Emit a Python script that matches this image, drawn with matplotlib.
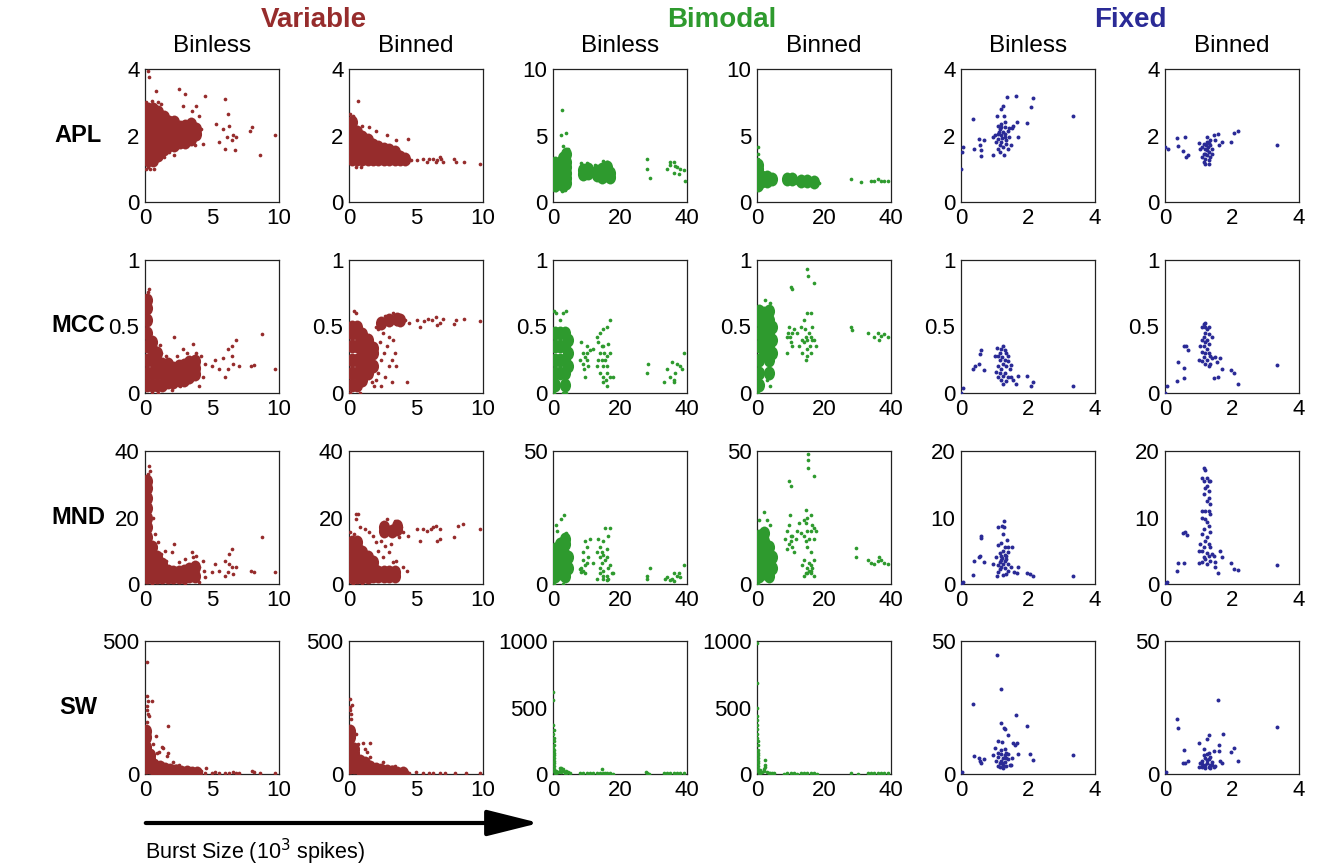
import matplotlib
matplotlib.use("Agg")
import matplotlib.pyplot as plt
from matplotlib.path import Path
import matplotlib.transforms as mtrans
from matplotlib.patches import FancyArrowPatch

plt.rcParams['font.family'] = ['Liberation Sans', 'DejaVu Sans']

# ---------------- labels ----------------
groups = ["Variable", "Bimodal", "Fixed"]
subtitles = ["Binless", "Binned"]
rows = ["APL", "MCC", "MND", "SW"]
xlabel_text = "Burst Size (10$^3$ spikes)"

# axis limits / ticks per row (variable, bimodal, fixed)
x_max = [10, 40, 4]
x_ticks = [[0, 5, 10], [0, 20, 40], [0, 2, 4]]
y_max = [[4, 10, 4], [1, 1, 1], [40, 50, 20], [500, 1000, 50]]
y_ticks = [
    [["0", "2", "4"], ["0", "5", "10"], ["0", "2", "4"]],
    [["0", "0.5", "1"], ["0", "0.5", "1"], ["0", "0.5", "1"]],
    [["0", "20", "40"], ["0", "", "50"], ["0", "10", "20"]],
    [["0", "", "500"], ["0", "500", "1000"], ["0", "", "50"]],
]

# ---------------- data: APL ----------------
apl_var_binless_core = [
    (0.2,1.25),(0.2,1.5),(0.2,1.8),(0.2,2.1),(0.2,2.4),(0.2,2.65),(0.2,2.8),
    (0.6,1.25),(0.6,1.5),(0.6,1.8),(0.6,2.1),(0.6,2.4),(0.6,2.65),(0.6,2.8),
    (1.0,1.4),(1.0,1.7),(1.0,2.0),(1.0,2.3),(1.0,2.6),(1.0,2.7),
    (1.4,1.6),(1.4,1.9),(1.4,2.2),(1.4,2.5),(1.4,2.55),
    (1.8,1.7),(1.8,2.0),(1.8,2.3),(1.8,2.4),
    (2.2,1.7),(2.2,2.0),(2.2,2.3),(2.2,2.4),
    (2.6,1.8),(2.6,2.1),(2.6,2.25),
    (3.0,1.8),(3.0,2.1),(3.0,2.3),
    (3.4,1.9),(3.4,2.2),(3.4,2.35),(3.8,2.05),(3.8,2.2)]
apl_var_binless = [
    (0.2,3.95),(0.3,3.75),(0.8,3.35),(1.0,3.0),(2.5,3.4),(3.0,3.25),(4.5,3.2),(6.0,3.1),
    (6.2,2.65),(2.8,2.9),(3.8,2.9),(4.2,2.2),(5.3,2.35),(5.5,1.8),(5.8,2.2),(6.0,1.6),
    (6.3,2.3),(6.5,1.85),(6.6,2.0),(6.8,1.95),(6.7,1.55),(6.1,1.95),(7.8,2.15),(8.0,2.25),
    (8.6,1.4),(9.7,2.0),(4.3,1.75),(3.7,1.7),(1.8,1.5),(2.2,1.4),(1.4,1.35),(0.4,1.0),
    (0.2,1.05),(4.0,2.6),(3.5,2.75),(0.1,3.0),(0.5,3.05),(1.2,2.95),(0.1,1.0),(0.7,1.0)]
apl_var_binned_core = [
    (0.2,1.3),(0.2,1.6),(0.2,1.9),(0.2,2.2),(0.2,2.4),
    (0.6,1.3),(0.6,1.6),(0.6,1.9),(0.6,2.1),
    (1.0,1.3),(1.0,1.6),(1.0,1.9),(1.0,1.95),
    (1.4,1.3),(1.4,1.6),(1.4,1.85),
    (1.8,1.3),(1.8,1.55),(1.8,1.7),
    (2.2,1.3),(2.2,1.5),(2.2,1.65),(2.6,1.3),(2.6,1.5),(2.6,1.6),
    (3.0,1.3),(3.0,1.45),(3.0,1.55),(3.4,1.3),(3.4,1.45),(3.4,1.5),
    (3.8,1.3),(3.8,1.35),(4.2,1.3)]
apl_var_binned = [
    (0.7,3.05),(0.4,2.5),(1.0,2.3),(1.5,2.25),(2.0,2.15),(2.8,2.0),(3.5,1.85),(4.4,1.9),
    (5.1,1.25),(5.5,1.3),(5.8,1.2),(6.0,1.3),(6.3,1.28),(6.6,1.25),(6.8,1.35),(7.0,1.2),
    (6.9,1.3),(7.8,1.3),(8.0,1.2),(8.6,1.2),(9.8,1.15),(0.5,1.05),(0.9,1.05),(4.6,1.25),
    (6.5,1.2),(0.1,2.65),(0.3,2.6),(4.0,1.2),(4.4,1.2)]
apl_bim_binless_core = [
    (0.5,1.3),(0.5,1.7),(0.5,2.1),(0.5,2.5),(0.5,2.9),
    (1.8,1.4),(1.8,1.8),(1.8,2.2),(1.8,2.6),
    (3.0,1.3),(3.0,1.7),(3.0,2.1),(3.0,2.5),(3.0,2.9),(3.0,3.3),
    (4.0,1.4),(4.0,1.8),(4.0,2.2),(4.0,2.6),(4.0,3.0),(4.0,3.6),
    (9.0,2.1),(9.0,2.4),(10.5,2.2),(10.5,2.5),(13.0,2.0),(13.0,2.3),
    (14.5,1.9),(14.5,2.2),(14.5,2.5),(16.0,2.0),(16.0,2.3),(16.0,2.6),(17.0,1.9),(17.0,2.2)]
apl_bim_binless = [
    (28,3.2),(28,2.5),(29,1.8),(34,2.5),(35,3.0),(36,3.0),(36,2.2),(37,2.6),(37.5,2.1),
    (38,2.5),(39,2.4),(39.5,1.6),(35,2.8),(36.5,2.7),
    (8.5,2.9),(9.5,1.8),(10,2.9),(11,1.9),(12,2.0),(15,3.1),(16,3.0),(17.5,2.5),(18,1.7),
    (16.5,1.6),(12.5,2.8),(3.5,0.9),(2.8,0.8),(1,0.9),(3,4.2),(4.5,4.0),(2.6,6.9),
    (4.0,5.2),(2.5,5.0)]
apl_bim_binned_core = [
    (0.3,1.3),(0.3,1.7),(0.3,2.1),(0.3,2.5),(0.3,2.8),(1.5,1.6),(1.5,1.9),(3.0,1.6),
    (3.0,1.9),(4.5,1.75),(9.0,1.7),(10.5,1.75),(13.0,1.6),(15.0,1.55),(17.0,1.5)]
apl_bim_binned = [
    (0.2,3.2),(0.3,3.6),(0.2,4.1),(0.5,3.0),(5.5,1.8),(8,1.6),(9.5,1.5),(11.5,1.7),
    (12,1.4),(14,1.7),(16,1.3),(17,1.2),(18,1.6),(18.5,1.4),(28,1.7),(31,1.5),(34,1.6),
    (35,1.55),(36,1.7),(37,1.6),(38,1.55),(39,1.6),(0.5,1.0)]
apl_fix_binless = [
    (0,1.0),(0.04,1.49),(0.07,1.64),(0.35,2.51),(0.4,1.59),(0.55,1.89),(0.57,1.72),
    (0.59,1.55),(0.6,1.39),(0.69,1.87),(0.97,1.41),(0.96,1.94),(1.06,2.6),(1.09,2.29),
    (1.18,2.79),(1.26,2.9),(1.29,2.6),(1.38,3.17),(1.64,3.2),(2.16,3.12),(2.08,2.87),
    (1.96,2.39),(1.71,1.94),(1.66,2.42),(1.56,2.29),(1.51,2.22),(1.44,2.22),(1.28,1.41),
    (1.48,1.72),(3.33,2.6),
    (1.1,1.6),(1.15,1.7),(1.2,1.8),(1.1,1.9),(1.2,2.0),(1.25,2.1),(1.15,2.2),(1.3,1.95),
    (1.35,1.85),(1.1,2.05),(1.2,2.25),(1.3,2.25),(1.4,2.15),(1.15,1.5),(1.25,1.65),
    (1.35,1.75),(1.05,1.8),(1.4,1.6),(1.3,2.4),(1.2,2.35),(1.0,2.0),(1.12,2.12),
    (1.22,1.92),(1.32,2.05),(1.42,1.95)]
apl_fix_binned = [
    (0,1.65),(0.1,1.6),(0.37,1.93),(0.4,1.67),(0.6,1.95),(0.55,1.52),(0.68,1.42),
    (0.62,1.34),(1.0,1.77),(1.45,2.02),(1.57,2.05),(1.48,1.87),(1.6,1.72),(1.7,1.8),
    (1.97,1.79),(2.07,2.09),(2.18,2.13),(3.35,1.7),(1.25,1.94),(1.05,1.59),
    (1.15,1.2),(1.2,1.3),(1.25,1.4),(1.3,1.5),(1.2,1.6),(1.35,1.7),(1.15,1.75),(1.25,1.8),
    (1.3,1.25),(1.35,1.35),(1.15,1.45),(1.25,1.55),(1.4,1.6),(1.1,1.65),(1.2,1.15),
    (1.3,1.15),(1.35,1.85),(1.4,1.45),(1.1,1.35),(1.2,1.45),(1.28,1.65),(1.22,1.72),
    (1.32,1.78)]

# ---------------- data: MCC ----------------
mcc_var_binless_core = [
    (0.15,0.06),(0.15,0.15),(0.15,0.25),(0.15,0.35),(0.15,0.45),(0.15,0.55),(0.15,0.64),(0.15,0.7),
    (0.5,0.06),(0.5,0.15),(0.5,0.25),(0.5,0.33),(0.5,0.38),
    (0.9,0.06),(0.9,0.15),(0.9,0.23),(0.9,0.3),(1.3,0.06),(1.3,0.15),(1.3,0.22),
    (1.7,0.08),(1.7,0.16),(1.7,0.22),(2.1,0.08),(2.1,0.15),(2.1,0.19),
    (2.5,0.1),(2.5,0.16),(2.5,0.2),(2.9,0.1),(2.9,0.16),(2.9,0.21),
    (3.3,0.12),(3.3,0.18),(3.3,0.23),(3.7,0.14),(3.7,0.19),(3.7,0.24)]
mcc_var_binless = [
    (0.3,0.78),(2.2,0.42),(3.6,0.37),(2.8,0.33),(3.8,0.3),(4.2,0.28),(4.5,0.22),(5.2,0.25),
    (5.0,0.2),(5.5,0.18),(5.8,0.26),(6.2,0.33),(6.5,0.28),(6.6,0.22),(6.2,0.18),(6.0,0.12),
    (6.8,0.4),(6.5,0.35),(7.0,0.2),(7.9,0.2),(8.1,0.21),(8.7,0.44),(9.7,0.18),(4.3,0.12),
    (2.6,0.05),(2.0,0.02),(0.5,0.01),(1.0,0.0),(3.2,0.08),(4.0,0.05),(0.2,0.76),(0.25,0.73),
    (1.2,0.3),(1.6,0.28),(2.4,0.28),(3.1,0.3),(1.1,0.36)]
mcc_var_binned_core = [
    (0.2,0.06),(0.2,0.15),(0.2,0.25),(0.2,0.35),(0.2,0.45),(0.2,0.5),
    (0.6,0.06),(0.6,0.15),(0.6,0.25),(0.6,0.35),(0.6,0.45),(0.6,0.5),
    (1.0,0.1),(1.0,0.2),(1.0,0.3),(1.0,0.4),(1.0,0.44),
    (1.4,0.15),(1.4,0.25),(1.4,0.35),(1.4,0.4),(1.8,0.2),(1.8,0.3),(1.8,0.34),
    (2.4,0.53),(3.0,0.55),(3.6,0.56),(3.8,0.55)]
mcc_var_binned = [
    (0.4,0.62),(0.5,0.6),(2.0,0.1),(2.2,0.15),(2.4,0.25),(2.6,0.3),(2.8,0.35),(3.0,0.2),
    (3.2,0.25),(3.4,0.3),(3.3,0.4),(2.5,0.45),(2.3,0.38),(2.7,0.12),(2.4,0.05),(1.9,0.05),
    (1.7,0.08),(3.5,0.2),(4.3,0.08),(3.0,0.42),(2.2,0.48),(4.2,0.55),(4.5,0.53),(5.1,0.55),
    (5.3,0.5),(5.6,0.54),(5.9,0.56),(6.2,0.55),(6.5,0.57),(6.8,0.53),(7.0,0.56),(6.6,0.51),
    (7.8,0.52),(8.0,0.55),(8.6,0.56),(9.8,0.54),(3.2,0.08),(0.1,0.0),(0.8,0.0),
    (2.0,0.5),(2.7,0.58),(3.3,0.6),(3.9,0.58),(3.5,0.52)]
mcc_bim_binless_core = [
    (0.5,0.06),(0.5,0.15),(0.5,0.25),(0.5,0.35),(0.5,0.45),(2.0,0.15),(2.0,0.25),(2.0,0.35),
    (2.0,0.45),(3.5,0.06),(3.5,0.15),(3.5,0.25),(3.5,0.35),(3.5,0.45),(4.5,0.2),(4.5,0.3),
    (4.5,0.4)]
mcc_bim_binless = [
    (28,0.15),(28.5,0.22),(33,0.08),(34,0.18),(35,0.12),(35.5,0.23),(36,0.1),(36.5,0.15),
    (37,0.22),(38,0.2),(38.5,0.18),(39,0.3),(36,0.08),
    (0.2,0.62),(1,0.6),(3,0.6),(4,0.62),(2,0.55),(8.5,0.38),(9,0.22),(10,0.35),(10.5,0.2),
    (9.5,0.12),(8,0.25),(11,0.32),(12,0.33),(13,0.42),(13.5,0.38),(14,0.45),(15,0.48),
    (16,0.5),(17,0.55),(16.5,0.37),(17,0.3),(15,0.35),(13,0.2),(14,0.15),(15,0.08),
    (16,0.05),(17,0.12),(18,0.12),(16,0.2),(14.5,0.25),(3,0.0),(4,0.0),(0.3,0.0),
    (9,0.3),(9.5,0.27),(10,0.25),(9.2,0.18),(10.2,0.3),(13.5,0.25),(14,0.3),(14.5,0.35),
    (15,0.2),(15.5,0.25),(16,0.15),(15.2,0.3),(16.2,0.28),(14.8,0.12),(15.8,0.1)]
mcc_bim_binned_core = [
    (0.5,0.06),(0.5,0.15),(0.5,0.25),(0.5,0.35),(0.5,0.45),(0.5,0.55),(0.5,0.62),
    (2.0,0.3),(2.0,0.4),(2.0,0.5),(2.0,0.6),(3.5,0.15),(3.5,0.25),(3.5,0.35),(3.5,0.45),
    (3.5,0.55),(3.5,0.62),(4.5,0.3),(4.5,0.4),(4.5,0.5)]
mcc_bim_binned = [
    (15,0.93),(15.2,0.88),(17,0.83),(10,0.8),(10.3,0.78),
    (28,0.5),(28.5,0.47),(33,0.45),(35,0.42),(36,0.45),(37,0.43),(38,0.44),(39,0.42),(36.5,0.4),
    (0.3,0.0),(4,0.05),(3,0.1),(9,0.42),(9.5,0.5),(10,0.38),(10.5,0.45),(11,0.48),(9,0.3),
    (12,0.45),(12.5,0.35),(13,0.5),(13.5,0.3),(14,0.55),(15,0.6),(16,0.6),(16.5,0.5),
    (17,0.4),(17.5,0.35),(15,0.28),(16,0.3),(14.5,0.25),(2.5,0.7),(4,0.68),
    (13.5,0.4),(14,0.38),(14.5,0.42),(15,0.4),(15.5,0.45),(16,0.42),(14.2,0.48),(15.8,0.35),
    (14.8,0.33),(16.5,0.4),(9.2,0.45),(9.8,0.42),(10.5,0.35)]
mcc_fix_binless = [
    (0,0),(0.07,0.04),(0.35,0.18),(0.41,0.2),(0.55,0.22),(0.57,0.29),(0.59,0.32),(0.69,0.17),
    (1.0,0.28),(1.06,0.34),(1.26,0.07),(1.63,0.07),(1.56,0.1),(1.71,0.13),(1.96,0.13),
    (2.08,0.05),(2.16,0.08),(3.33,0.05),(1.49,0.21),(1.41,0.28),
    (1.1,0.12),(1.15,0.15),(1.2,0.18),(1.25,0.22),(1.3,0.25),(1.35,0.3),(1.2,0.33),(1.25,0.35),
    (1.1,0.28),(1.15,0.25),(1.3,0.15),(1.35,0.2),(1.4,0.12),(1.1,0.2),(1.2,0.1),(1.25,0.13),
    (1.3,0.32),(1.4,0.24),(1.45,0.18),(1.15,0.3),(1.05,0.16),(1.35,0.09),(1.5,0.12),(1.22,0.27)]
mcc_fix_binned = [
    (0,0),(0.07,0.05),(0.35,0.09),(0.4,0.23),(0.57,0.35),(0.63,0.35),(0.68,0.32),(0.58,0.19),
    (0.58,0.11),(1.45,0.11),(1.57,0.12),(1.7,0.18),(1.63,0.26),(1.97,0.17),(2.07,0.15),
    (2.17,0.07),(3.33,0.21),(1.0,0.25),(1.5,0.27),(1.55,0.23),
    (1.1,0.5),(1.15,0.52),(1.2,0.5),(1.25,0.48),(1.3,0.5),(1.2,0.45),(1.3,0.44),(1.15,0.42),
    (1.25,0.4),(1.1,0.4),(1.2,0.38),(1.3,0.37),(1.15,0.35),(1.25,0.33),(1.1,0.31),(1.2,0.3),
    (1.3,0.3),(1.35,0.28),(1.15,0.27),(1.25,0.25),(1.1,0.24),(1.2,0.22),(1.35,0.22),
    (1.4,0.26),(1.05,0.35),(1.4,0.42),(1.3,0.2),(1.2,0.53)]

# ---------------- data: MND ----------------
mnd_var_binless_core = [
    (0.15,2),(0.15,5),(0.15,8),(0.15,11),(0.15,14),(0.15,17),(0.15,20),(0.15,23),(0.15,26),
    (0.15,29),(0.15,31),(0.5,2),(0.5,5),(0.5,8),(0.5,11),(0.9,2),(0.9,5),(0.9,8),
    (1.3,2),(1.3,4.5),(1.3,6),(1.7,2),(1.7,4),(2.1,2),(2.1,3.5),
    (2.5,2),(2.5,3.5),(2.9,2),(2.9,4),(3.3,2.5),(3.3,4.5),(3.7,2.5),(3.7,5)]
mnd_var_binless = [
    (0.3,35.5),(0.35,34),(0.25,33),(0.6,20),(0.75,15),(1.0,12.5),(1.5,10),(2.2,12),(2.0,9.5),
    (3.5,9.5),(3.8,8.5),(4.3,7),(4.0,5),(4.4,4),(4.5,2),(5.2,6),(5.0,3.5),(5.5,4),(6.0,7),
    (6.3,6),(6.5,5),(6.2,3.5),(6.0,2.5),(6.8,5),(6.6,3),(6.5,10.5),(6.3,9),(7.9,4),(8.1,3.5),
    (8.7,14),(9.7,3.5),(4.0,0.5),(3.0,0.3),(0.5,0.0),(1.2,9),(1.6,7),(2.5,6.5),(3.0,7.5),
    (3.6,8)]
mnd_var_binned_core = [
    (0.2,2),(0.2,5),(0.2,8),(0.2,11),(0.2,12.5),(0.6,2),(0.6,5),(0.6,8),(0.6,11),(0.6,12.5),
    (1.0,2),(1.0,5),(1.0,8),(1.0,9.5),(1.4,2),(1.4,5),(1.4,8),(1.8,2.5),(1.8,5),
    (1.8,6.5),(2.2,2.5),(2.2,3.5),(2.6,2.5),(2.6,3.5),(3.0,2.5),(3.0,3.5),(3.4,2.5),(3.4,3.5),
    (2.6,16),(2.6,17),(3.2,16),(3.6,16.5),(3.6,17.5)]
mnd_var_binned = [
    (0.5,21),(0.7,21),(0.5,19.5),(0.8,17),(1.2,16.5),(1.5,15.5),(1.8,14.5),(2.0,12.5),
    (2.2,10),(2.5,8),(2.7,11.5),(3.0,9.5),(3.3,6.5),(3.5,7),(3.1,12),(2.4,13),(2.9,17),
    (2.8,19.5),(3.4,19),(3.9,17),(4.0,15.5),(4.4,14.5),(3.7,14),(4.0,5),(4.3,4),(5.1,16.5),
    (5.3,13),(5.5,16.5),(5.8,16),(6.1,16.5),(6.3,17),(6.5,17.5),(6.8,16.5),(6.6,13),
    (6.8,13.5),(7.8,14),(8.1,17.5),(8.5,18),(9.8,16.5),(0.3,0),(1,0.2),(0.1,15.5),(0.4,15)]
mnd_bim_binless_core = [
    (0.5,3),(0.5,7),(0.5,11),(0.5,13),(2.0,4),(2.0,8),(2.0,12),(2.0,15),(3.5,3),(3.5,7),
    (3.5,11),(3.5,15),(3.5,17),(4.5,6),(4.5,10)]
mnd_bim_binless = [
    (2.5,24.5),(3.2,26),(0.8,22),(1.2,20),(4.0,19),(0.2,0),(3,0),(8.5,6),(9.5,7),(9,12),
    (10,14),(10.5,10),(9.5,16),(11,17),(8,5.5),(12,8),(13,12),(13.5,17),(14,14),(15,16),
    (15.5,21),(16.5,18),(17,21),(15,11),(16,13),(17,7),(17.5,4),(18,4),(14,6),(13,2),
    (15,2),(16,1.5),(28,3),(28,2),(29,6),(34,2.5),(35,1.5),(35.5,2),(36,4),(37,3),
    (37.5,4),(38,2.5),(39,7),(36,1),(33.5,2),
    (9,5),(9.5,4),(8.5,4.5),(10,8),(9,9),(14,4),(14.5,8),(15,5),(16,3),(16,10),(15.5,9),
    (14.5,12),(16.5,6),(15,3),(16.5,2),(14,10)]
mnd_bim_binned_core = [
    (0.5,3),(0.5,7),(0.5,11),(0.5,15),(0.5,18),(2.0,4),(2.0,8),(2.0,12),(2.0,16),(2.0,19),
    (3.5,3),(3.5,7),(3.5,11),(3.5,14),(4.5,6),(4.5,10)]
mnd_bim_binned = [
    (9.6,38.8),(10,36.8),(9.8,26),(14.7,28),(15.1,49),(15.1,46.8),(15.1,43.6),(17.1,40.5),
    (0.3,0),(0.5,24),(2,27),(3,24),(4,22),(8.5,17),(9,20),(9.5,22),(10,18),(10.5,14),
    (11,12),(9,13),(11.5,17),(12,20),(12.5,23),(13,19),(14,24),(14.5,23),(15,25),(16,26),
    (16.5,22),(17,17),(17.5,20),(15,14),(16,12),(17,21),(14,9),(13.5,7),(15.5,8),(17,9),
    (16,4),(17,3),(14,3),(29.5,13.5),(29.5,10),(33,9),(34,8),(35,7.5),(36,8.5),(37,9),
    (38,8),(39,7.5),(36.5,10),
    (10,16),(9.5,15),(10.5,18),(14,18),(14.5,16),(15,20),(16,20),(15.5,17),(15,6),(15.5,5),
    (16,5),(16.5,6),(14.5,4),(16,7),(15,4)]
mnd_fix_binless = [
    (0.02,0.2),(0.07,0.35),(0.35,1.35),(0.4,3.5),(0.55,4.1),(0.57,4.2),(0.59,6.85),
    (0.59,7.2),(0.69,3.25),(0.97,3.0),(1.06,1.25),(1.11,8.5),(1.21,8.7),(1.28,9.45),
    (1.29,8.5),(1.36,6.6),(1.41,5.6),(1.51,5.5),(1.48,2.5),(1.58,1.85),(1.71,2.5),
    (1.66,1.7),(1.96,1.6),(2.06,1.45),(2.16,1.25),(3.33,1.2),
    (1.1,1.8),(1.15,2.2),(1.2,2.6),(1.25,3.0),(1.3,3.4),(1.35,3.8),(1.2,4.2),(1.15,4.6),
    (1.25,5.0),(1.3,5.5),(1.1,5.8),(1.2,3.6),(1.3,2.4),(1.4,2.0),(1.35,1.5),(1.1,2.9),
    (1.25,1.4),(1.4,3.0),(1.15,3.3),(1.3,4.4),(1.4,4.8),(1.05,4.0),(1.2,6.2),(1.25,7.5),
    (1.35,4.2),(1.22,3.9)]
mnd_fix_binned = [
    (0.02,0.2),(0.07,0.35),(0.35,2.0),(0.4,3.1),(0.55,7.6),(0.6,7.85),(0.67,7.35),
    (0.58,3.1),(1.17,17.5),(1.2,17.1),(1.0,3.2),(1.45,4.2),(1.57,1.6),(1.48,2.5),
    (1.65,5.0),(1.7,4.0),(1.97,3.1),(2.07,2.2),(2.18,2.1),(3.33,2.85),(1.5,3.35),
    (1.1,16),(1.15,15.5),(1.25,16),(1.3,15.5),(1.35,15.5),(1.2,14.5),(1.3,14),(1.15,13.5),
    (1.25,12.5),(1.35,12),(1.1,11),(1.2,11),(1.3,11),(1.35,10.5),(1.1,10),(1.2,9.8),
    (1.25,9.3),(1.3,8.7),(1.15,8.2),(1.35,7.8),(1.1,7.5),(1.25,7),(1.2,6.5),(1.3,6),
    (1.15,5.5),(1.35,5.5),(1.1,5),(1.25,4.7),(1.3,4.2),(1.15,4),(1.2,3.7),(1.35,3.5),
    (1.1,3.3),(1.25,3.0),(1.4,4.5),(1.05,6),(1.0,5.0),(1.25,14.8),(1.3,13)]

# ---------------- data: SW ----------------
sw_var_binless_core = [
    (0.1,25),(0.1,60),(0.1,100),(0.1,140),(0.1,160),(0.35,25),(0.35,55),(0.35,70),(0.7,20),
    (0.7,35),(1.1,18),(1.1,25),(1.5,15),(1.5,20),(1.9,12),(1.9,16),(2.3,10),(2.3,12),
    (2.7,8),(3.1,6),(3.5,5),(3.9,4)]
sw_var_binless = [
    (0.12,420),(0.12,293),(0.2,276),(0.5,274),(0.12,255),(0.25,226),(0.32,217),(0.12,195),
    (1.74,180),(0.82,144),(0.62,113),(1.24,100),(1.36,97),(1.07,84),(0.87,78),(1.74,79),
    (1.61,69),(2.11,46),(4.54,23),(8.0,10),(8.6,4),(9.7,5),(5.2,6),(6.6,6),
    (2.5,35),(2.2,30),(3.0,20),(4.5,5),(5.5,5),(6.0,4),(6.3,5),(6.8,4),(7.0,3),(5.0,3),
    (8.1,8),(4.2,10),(0.15,240),(0.2,160),(0.25,130)]
sw_var_binned_core = [
    (0.1,25),(0.1,60),(0.1,100),(0.1,140),(0.1,160),(0.4,25),(0.4,50),(0.4,80),(0.4,95),
    (0.8,18),(0.8,40),(0.8,50),(1.2,18),(1.2,35),(1.2,40),(1.6,15),(1.6,25),(2.0,12),
    (2.0,20),(2.4,10),(2.4,15),(2.8,8),(2.8,12),(3.2,6),(3.2,9),(3.6,5),(4.0,4)]
sw_var_binned = [
    (0.05,283),(0.1,251),(0.1,242),(0.17,226),(0.17,207),(0.55,151),(0.67,113),(1.05,116),
    (1.55,116),(1.17,94),(1.35,84),(1.55,65),(2.5,44),(3.42,31),(5.0,6),(7.9,4),(8.7,4),
    (9.75,4),(4.5,4),(5.5,5),(6.0,4),(6.3,3),(6.8,4),(7.2,3),(4.3,6),(0.2,260),(3.0,20)]
sw_bim_binless_core = []
sw_bim_binless = [
    (0.1,620),(0.1,558),(0.1,365),(0.1,298),(0.2,273),(0.1,198),(2.5,42),(14.7,37),
    (27.7,12),(28.7,0),(0.3,250),(0.3,330),(2,45),
    (0.2,20),(0.2,40),(0.2,60),(0.2,80),(0.2,100),(0.2,120),(0.2,140),(0.2,160),(0.2,180),
    (0.2,220),(0.5,10),(1,8),(1.5,15),(2,20),(2.5,12),(3,25),(3.5,10),(4,8),(4.5,15),(5,5),
    (8,4),(9,6),(10,5),(11,4),(12,6),(13,5),(14,4),(15,8),(15.5,10),(16,5),(17,4),(18,3),
    (28,8),(33,4),(34,5),(35,4),(36,6),(37,5),(38,4),(39,5),(1,25),(3,35),(4,20)]
sw_bim_binned_core = []
sw_bim_binned = [
    (0.1,985),(0.1,682),(0.1,496),(0.1,434),(0.1,409),(0.1,372),(0.1,335),(0.1,298),
    (0.1,273),(2.5,104),(2.5,69),(2.5,50),
    (0.2,20),(0.2,40),(0.2,60),(0.2,80),(0.2,100),(0.2,120),(0.2,140),(0.2,160),(0.2,180),
    (0.2,220),(0.2,250),(0.5,10),(1,8),(1.5,15),(2,20),(3,12),(3.5,10),(4,10),(4.5,6),
    (5,5),(8,3),(9,5),(10,4),(11,5),(12,3),(13,5),(14,4),(15,5),(16,5),(17,4),(18,3),
    (28,4),(30,3),(33,4),(34,5),(35,4),(36,5),(37,4),(38,5),(39,4),(1,30),(2,35)]
sw_fix_binless = [
    (0.02,0.9),(1.06,44.7),(1.19,32),(0.35,26.3),(1.64,22.1),(1.96,18),(1.19,19.2),
    (1.28,17.4),(1.31,17.1),(1.39,14.5),(1.54,11.8),(1.68,11.8),(1.61,10.8),(1.71,7.4),
    (2.06,7.4),(2.16,5.3),(3.33,7.2),(0.4,6.8),(0.55,6.2),(0.57,5.0),(0.59,4.1),(0.69,5.6),
    (1.01,9.7),(1.11,12.4),(1.23,12.0),(0.97,7.1),(1.51,6.2),(1.48,3.5),
    (1.1,3),(1.15,4),(1.2,5),(1.25,6),(1.3,7),(1.35,8),(1.2,9),(1.1,6.5),(1.3,4.5),
    (1.35,3),(1.4,5.5),(1.15,2.5),(1.25,3.2),(1.2,7.5),(1.3,9.5),(1.4,7.5),(1.05,5),
    (1.45,3.5),(1.25,2.2),(1.1,8),(1.35,6),(1.22,4.2)]
sw_fix_binned = [
    (0.02,0.9),(0.35,20.5),(0.4,17.4),(0.58,8.9),(0.55,4.0),(0.6,4.3),(0.68,4.7),
    (1.57,27.7),(3.33,17.7),(1.73,14.9),(1.3,14.5),(1.0,11.5),(1.6,10.8),(1.97,8.1),
    (2.07,9.9),(2.18,4.7),(1.65,5.0),(1.7,4.3),(1.47,8.7),(1.6,8.7),(1.25,13),(1.15,9.5),
    (1.1,2.5),(1.15,3),(1.2,3.5),(1.25,4),(1.3,2.8),(1.35,3.2),(1.4,4.5),(1.1,5),(1.2,6),
    (1.3,5.5),(1.15,7),(1.25,7.5),(1.35,6.5),(1.05,4),(1.45,2.5),(1.2,2.2),(1.3,8),
    (1.1,3.8),(1.4,3.5),(1.25,5.2),(1.0,2.6),(1.5,3),(1.35,2.3)]

panels = [
    [(apl_var_binless_core, apl_var_binless), (apl_var_binned_core, apl_var_binned),
     (apl_bim_binless_core, apl_bim_binless), (apl_bim_binned_core, apl_bim_binned),
     ([], apl_fix_binless), ([], apl_fix_binned)],
    [(mcc_var_binless_core, mcc_var_binless), (mcc_var_binned_core, mcc_var_binned),
     (mcc_bim_binless_core, mcc_bim_binless), (mcc_bim_binned_core, mcc_bim_binned),
     ([], mcc_fix_binless), ([], mcc_fix_binned)],
    [(mnd_var_binless_core, mnd_var_binless), (mnd_var_binned_core, mnd_var_binned),
     (mnd_bim_binless_core, mnd_bim_binless), (mnd_bim_binned_core, mnd_bim_binned),
     ([], mnd_fix_binless), ([], mnd_fix_binned)],
    [(sw_var_binless_core, sw_var_binless), (sw_var_binned_core, sw_var_binned),
     (sw_bim_binless_core, sw_bim_binless), (sw_bim_binned_core, sw_bim_binned),
     ([], sw_fix_binless), ([], sw_fix_binned)],
]

# ---------------- styling / layout ----------------
colors = ["#962c2c", "#2e9a2e", "#2a2a96"]
W, H = 1317, 867
fig = plt.figure(figsize=(W / 100, H / 100), dpi=100)
col_left = [145, 349, 553, 757, 961, 1165]
row_top = [69, 260, 451, 641]
aw, ah = 134, 133

# tall ellipse marker used to fill the dense cloud regions
blob_marker = Path.unit_circle().transformed(mtrans.Affine2D().scale(0.8, 1.0))

def fx(px):
    return px / W

def fy(py):
    return 1 - py / H

for r in range(4):
    for c in range(6):
        g = c // 2
        ax = fig.add_axes([fx(col_left[c]), fy(row_top[r] + ah), aw / W, ah / H])
        core, pts = panels[r][c]
        if core:
            ax.scatter([p[0] for p in core], [p[1] for p in core], s=100, c=colors[g],
                       marker=blob_marker, linewidths=0, zorder=3)
        ax.scatter([p[0] for p in pts], [p[1] for p in pts],
                   s=7 if g < 2 else 8, c=colors[g], linewidths=0, zorder=3)
        ax.set_xlim(0, x_max[g])
        ym = y_max[r][g]
        ax.set_ylim(0, ym)
        ax.set_xticks(x_ticks[g])
        ax.set_xticklabels([str(t) for t in x_ticks[g]])
        ax.set_yticks([0, ym / 2, ym])
        ax.set_yticklabels(y_ticks[r][g])
        ax.tick_params(length=0, labelsize=16, pad=4)
        for sp in ax.spines.values():
            sp.set_linewidth(0.9)
            sp.set_color("#222222")

# group titles
for g, name in enumerate(groups):
    cx = (col_left[2 * g] + col_left[2 * g + 1] + aw) / 2
    fig.text(fx(cx), fy(20), name, color=colors[g], fontsize=20, fontweight="bold",
             ha="center", va="center")
for c in range(6):
    fig.text(fx(col_left[c] + aw / 2), fy(46), subtitles[c % 2], fontsize=17.5,
             ha="center", va="center")
for r, name in enumerate(rows):
    fig.text(fx(78), fy(row_top[r] + 66), name, fontsize=17, fontweight="bold",
             ha="center", va="center")

# arrow and axis caption
fig.add_artist(FancyArrowPatch(
    (fx(143), fy(823)), (fx(542), fy(823)), transform=fig.transFigure,
    arrowstyle="-|>,head_length=3.2,head_width=0.8", mutation_scale=10,
    linewidth=3, color="black"))
fig.text(fx(145), fy(852), xlabel_text, fontsize=15.5, ha="left", va="center")

fig.savefig("out.png", dpi=100)
